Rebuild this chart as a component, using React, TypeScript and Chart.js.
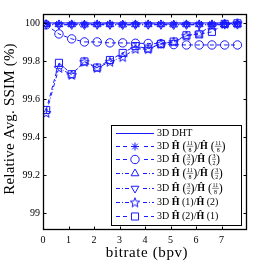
import React, { useEffect, useRef } from 'react';
import { Chart, registerables } from 'chart.js';
import { drawPoint } from 'chart.js/helpers';
Chart.register(...registerables);

const bitrate = [0.125, 0.625, 1.125, 1.625, 2.125, 2.625, 3.125, 3.625, 4.125, 4.625, 5.125, 5.625, 6.125, 6.625, 7.125, 7.625];
const dht = [100, 100, 100, 100, 100, 100, 100, 100, 100, 100, 100, 100, 100, 100, 100, 100];
const h118h118 = [99.996, 99.995, 99.995, 99.994, 99.995, 99.995, 99.994, 99.995, 99.995, 99.995, 99.994, 99.995, 99.995, 99.995, 99.996, 99.996];
const h32h32 = [99.99, 99.942, 99.916, 99.9, 99.9, 99.895, 99.895, 99.893, 99.892, 99.89, 99.886, 99.884, 99.884, 99.884, 99.884, 99.884];
const h118h32 = [99.993, 99.992, 99.992, 99.991, 99.992, 99.992, 99.991, 99.992, 99.992, 99.992, 99.991, 99.992, 99.992, 99.992, 99.993, 99.993];
const h32h118 = [99.991, 99.99, 99.99, 99.989, 99.99, 99.99, 99.989, 99.99, 99.99, 99.99, 99.989, 99.99, 99.99, 99.99, 99.991, 99.991];
const h1h2 = [99.526, 99.763, 99.726, 99.795, 99.763, 99.795, 99.82, 99.863, 99.862, 99.89, 99.9, 99.932, 99.945, 99.985, 99.995, 99.998];
const h2h1 = [99.542, 99.79, 99.73, 99.797, 99.765, 99.805, 99.842, 99.878, 99.865, 99.89, 99.902, 99.935, 99.94, 99.953, 99.995, 99.998];

const yTicks = [99, 99.2, 99.4, 99.6, 99.8, 100];
const xTicks = [0, 1, 2, 3, 4, 5, 6, 7];

const BLUE = 'rgb(25,25,255)';
const SERIF = '"Liberation Serif", "DejaVu Serif", serif';

function makeStar(): HTMLCanvasElement {
  const c = document.createElement('canvas');
  c.width = 12; c.height = 12;
  const g = c.getContext('2d')!;
  g.strokeStyle = BLUE; g.lineWidth = 1;
  g.beginPath();
  const cx = 6, cy = 6.3, R = 5, r = 2.1;
  for (let i = 0; i < 10; i++) {
    const a = -Math.PI / 2 + (i * Math.PI) / 5;
    const rr = i % 2 === 0 ? R : r;
    const px = cx + rr * Math.cos(a), py = cy + rr * Math.sin(a);
    if (i === 0) g.moveTo(px, py); else g.lineTo(px, py);
  }
  g.closePath(); g.stroke();
  return c;
}

type Part = { t: 'txt'; s: string; bold?: boolean; size?: number } | { t: 'frac'; n: string; d: string };

function fracLabel(n1: string, d1: string, n2: string, d2: string): Part[] {
  return [
    { t: 'txt', s: '3D ' }, { t: 'txt', s: 'Ĥ', bold: true }, { t: 'txt', s: ' (', size: 12 },
    { t: 'frac', n: n1, d: d1 }, { t: 'txt', s: ')', size: 12 }, { t: 'txt', s: '/' },
    { t: 'txt', s: 'Ĥ', bold: true }, { t: 'txt', s: ' (', size: 12 }, { t: 'frac', n: n2, d: d2 },
    { t: 'txt', s: ')', size: 12 },
  ];
}
function simpleLabel(a: string, b: string): Part[] {
  return [
    { t: 'txt', s: '3D ' }, { t: 'txt', s: 'Ĥ', bold: true }, { t: 'txt', s: ' (' + a + ')/' },
    { t: 'txt', s: 'Ĥ', bold: true }, { t: 'txt', s: ' (' + b + ')' },
  ];
}

const legendLabels: Part[][] = [
  [{ t: 'txt', s: '3D DHT' }],
  fracLabel('11', '8', '11', '8'),
  fracLabel('3', '2', '3', '2'),
  fracLabel('11', '8', '3', '2'),
  fracLabel('3', '2', '11', '8'),
  simpleLabel('1', '2'),
  simpleLabel('2', '1'),
];

function drawParts(ctx: CanvasRenderingContext2D, x: number, y: number, parts: Part[]) {
  ctx.fillStyle = '#000';
  ctx.textBaseline = 'alphabetic';
  ctx.textAlign = 'left';
  for (const p of parts) {
    if (p.t === 'txt') {
      const sz = p.size || 10;
      ctx.font = `${p.bold ? 'bold ' : ''}${sz}px ${SERIF}`;
      const by = sz > 10 ? y + 4 : y + 3.3;
      ctx.fillText(p.s, x, by);
      x += ctx.measureText(p.s).width;
    } else {
      ctx.font = `6px ${SERIF}`;
      const w = Math.max(ctx.measureText(p.n).width, ctx.measureText(p.d).width) + 1;
      ctx.textAlign = 'center';
      ctx.fillText(p.n, x + w / 2, y - 1);
      ctx.fillText(p.d, x + w / 2, y + 5.5);
      ctx.textAlign = 'left';
      ctx.strokeStyle = '#000'; ctx.lineWidth = 0.5;
      ctx.beginPath(); ctx.moveTo(x, y + 0.3); ctx.lineTo(x + w, y + 0.3); ctx.stroke();
      x += w;
    }
  }
}

export default function App() {
  const ref = useRef<HTMLCanvasElement>(null);
  useEffect(() => {
    const starImg = makeStar();
    const mk = (label: string, data: number[], style: any, dash: number[], radius: number, rotation = 0) => ({
      label,
      data: bitrate.map((x, i) => ({ x, y: data[i] })),
      borderColor: BLUE,
      backgroundColor: 'rgba(0,0,0,0)',
      borderWidth: 1,
      borderDash: dash,
      pointStyle: style,
      pointRadius: radius,
      pointRotation: rotation,
      pointBorderColor: BLUE,
      pointBackgroundColor: 'rgba(0,0,0,0)',
      pointBorderWidth: 1,
      fill: false,
      tension: 0,
    });
    const DASH = [4, 3];
    const DASHDOT = [4, 2, 1, 2];
    const sets = [
      mk('3D DHT', dht, 'circle', [], 0),
      mk('h118h118', h118h118, 'star', DASH, 4),
      mk('h32h32', h32h32, 'circle', DASH, 4.2),
      mk('h118h32', h118h32, 'triangle', DASHDOT, 4.5),
      mk('h32h118', h32h118, 'triangle', DASHDOT, 4.5, 180),
      mk('h1h2', h1h2, starImg, DASHDOT, 5),
      mk('h2h1', h2h1, 'rect', DASH, 5),
    ];

    const framePlugin = {
      id: 'frame',
      afterDatasetsDraw(chart: any) {
        const ctx = chart.ctx as CanvasRenderingContext2D;
        const { left, right, top, bottom } = chart.chartArea;
        const xs = chart.scales.x, ys = chart.scales.y;
        ctx.save();
        ctx.strokeStyle = '#000';
        ctx.lineWidth = 1;
        ctx.setLineDash([]);
        const L = Math.round(left) + 0.5, R = Math.round(right) - 0.5, T = Math.round(top) + 0.5, B = Math.round(bottom) - 0.5;
        ctx.beginPath();
        for (const v of xTicks) {
          const px = Math.round(xs.getPixelForValue(v)) + 0.5;
          ctx.moveTo(px, B); ctx.lineTo(px, B - 3);
          ctx.moveTo(px, T); ctx.lineTo(px, T + 3);
        }
        for (const v of yTicks) {
          const py = Math.round(ys.getPixelForValue(v)) + 0.5;
          ctx.moveTo(L, py); ctx.lineTo(L + 3, py);
          ctx.moveTo(R, py); ctx.lineTo(R - 3, py);
        }
        ctx.stroke();
        ctx.lineWidth = 1.3;
        ctx.strokeRect(L, T, R - L, B - T);

        // legend
        const lx = 111.5, ly = 125.5, lw = 130, lh = 100;
        ctx.fillStyle = '#fff';
        ctx.fillRect(lx, ly, lw, lh);
        ctx.lineWidth = 1;
        ctx.strokeRect(lx, ly, lw, lh);
        const rows = [133, 146, 159, 173, 188, 202, 216];
        rows.forEach((ry, i) => {
          const ds = sets[i];
          ctx.save();
          ctx.strokeStyle = BLUE;
          ctx.lineWidth = 1;
          ctx.setLineDash(ds.borderDash);
          ctx.beginPath();
          ctx.moveTo(116, ry + 0.5); ctx.lineTo(154, ry + 0.5);
          ctx.stroke();
          ctx.setLineDash([]);
          if (ds.pointRadius > 0) {
            ctx.fillStyle = '#fff';
            ctx.fillRect(129, ry - 5, 12, 11);
            ctx.fillStyle = 'rgba(0,0,0,0)';
            drawPoint(ctx, { pointStyle: ds.pointStyle, rotation: ds.pointRotation, radius: ds.pointRadius, borderWidth: 1 } as any, 135, ry + 0.5);
          }
          ctx.restore();
          drawParts(ctx, 157, ry, legendLabels[i]);
        });
        ctx.restore();
      },
      afterDraw(chart: any) {
        const ctx = chart.ctx as CanvasRenderingContext2D;
        const { left, right, top, bottom } = chart.chartArea;
        ctx.save();
        ctx.fillStyle = '#000';
        ctx.font = `15px ${SERIF}`;
        ctx.textAlign = 'center';
        ctx.textBaseline = 'middle';
        (ctx as any).letterSpacing = '0.6px';
        ctx.fillText('bitrate (bpv)', (left + right) / 2 + 2, 253);
        (ctx as any).letterSpacing = '0.2px';
        ctx.translate(10, (top + bottom) / 2 - 3);
        ctx.rotate(-Math.PI / 2);
        ctx.fillText('Relative Avg. SSIM (%)', 0, 0);
        ctx.restore();
      },
    };

    const chart = new Chart(ref.current!, {
      type: 'line',
      data: { datasets: sets as any },
      options: {
        responsive: false,
        animation: false,
        events: [],
        layout: { padding: { left: 0, top: 14, right: 9, bottom: 0 } },
        plugins: { legend: { display: false }, tooltip: { enabled: false } },
        scales: {
          x: {
            type: 'linear', min: 0, max: 8,
            afterBuildTicks: (s: any) => { s.ticks = xTicks.map((v) => ({ value: v })); },
            afterFit: (s: any) => { s.height = 34; },
            grid: { display: false, drawTicks: false },
            border: { display: false },
            ticks: { padding: 4, color: '#000', font: { family: SERIF, size: 10 }, maxRotation: 0, callback: (v: any) => String(v) },
          },
          y: {
            type: 'linear', min: 98.91, max: 100.047,
            afterBuildTicks: (s: any) => { s.ticks = yTicks.map((v) => ({ value: v })); },
            afterFit: (s: any) => { s.width = 43; },
            grid: { display: false, drawTicks: false },
            border: { display: false },
            ticks: { padding: 3, color: '#000', font: { family: SERIF, size: 10 }, callback: (v: any) => String(v) },
          },
        },
      },
      plugins: [framePlugin],
    });
    return () => chart.destroy();
  }, []);
  return (
    <div style={{ position: 'fixed', left: 0, top: 0, width: 256, height: 264, background: '#fff' }}>
      <canvas ref={ref} width={256} height={264} style={{ display: 'block' }} />
    </div>
  );
}
